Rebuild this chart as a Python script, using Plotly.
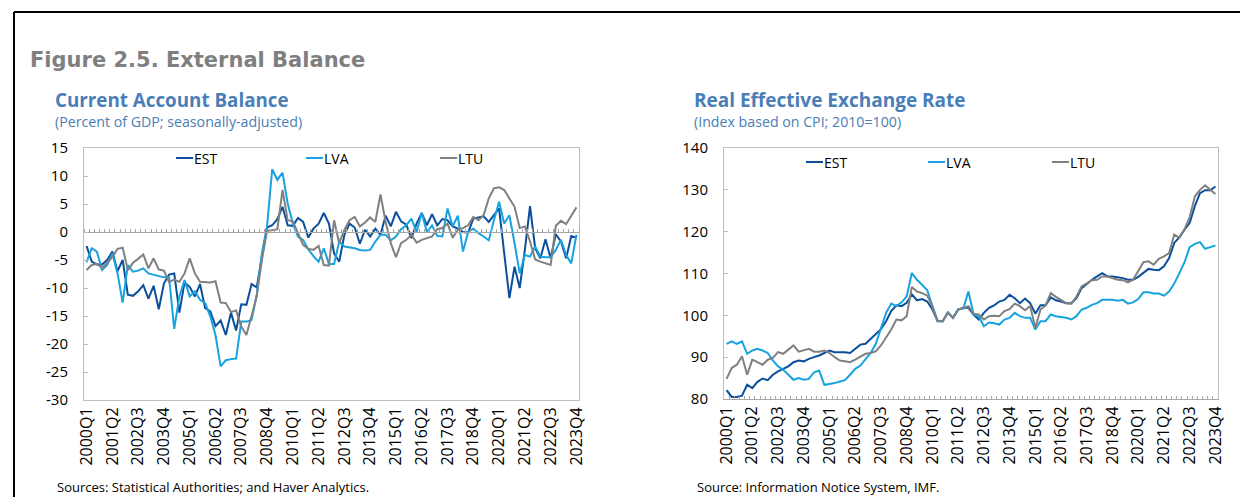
import plotly.graph_objects as go

# 2000Q1 ... 2023Q4
QUARTERS = [f"{y}Q{q}" for y in range(2000, 2024) for q in range(1, 5)]

# Current account balance, percent of GDP
CA_EST = [-2.5, -5.3, -5.8, -5.8, -5.0, -3.5, -7.0, -5.0, -11.2, -11.4,
          -10.6, -9.5, -11.9, -9.6, -13.8, -9.2, -7.6, -7.4, -14.4, -9.0,
          -9.8, -11.5, -9.3, -13.6, -14.2, -16.8, -15.8, -18.4, -14.4, -17.6,
          -12.9, -13.0, -9.3, -9.9, -4.5, 0.8, 1.2, 2.3, 4.5, 1.2,
          1.1, 2.5, 1.8, -1.0, 0.6, 1.5, 3.4, 1.5, -3.8, -5.3,
          -0.5, 1.5, 0.8, -2.1, 0.4, -0.8, 0.6, -0.5, 2.9, 1.0,
          3.6, 1.9, 1.3, -1.1, 1.5, 3.4, 1.2, 3.2, 1.2, 2.3,
          2.1, 1.0, 0.6, 0.0, -0.1, 2.4, 2.6, 2.8, 1.8, 3.0,
          4.2, -3.8, -11.8, -6.2, -10.0, -3.2, 4.6, -2.9, -4.7, -1.3,
          -4.7, -0.4, -1.7, -4.7, -0.7, -1.0]
CA_LVA = [-5.4, -2.9, -3.5, -6.8, -5.9, -3.8, -7.4, -12.6, -5.9, -7.1,
          -6.9, -6.5, -7.4, -7.6, -7.9, -8.1, -8.1, -17.3, -11.5, -8.6,
          -11.5, -10.6, -12.1, -12.7, -15.1, -18.4, -24.0, -22.9, -22.7, -22.6,
          -16.0, -16.0, -15.7, -11.2, -3.8, 1.0, 11.2, 9.3, 10.6, 5.1,
          1.5, -0.8, -1.4, -3.1, -4.3, -5.3, -2.9, -5.7, -5.7, -1.7,
          -2.6, -2.7, -2.9, -3.2, -3.3, -3.2, -1.7, -0.5, -0.5, -1.5,
          -0.8, 0.5, 1.2, 2.4, 0.0, 3.4, 0.0, 1.2, -0.7, -0.8,
          4.2, 1.0, 2.9, -3.5, 0.0, 0.6, -0.2, -0.8, -1.5, 2.1,
          5.4, 1.5, 3.0, -2.0, -7.4, -4.1, -4.4, -2.6, -4.4, -4.5,
          -4.5, -3.2, -1.4, -4.1, -5.6, -0.5]
CA_LTU = [-6.8, -5.9, -5.7, -6.4, -5.5, -4.5, -3.0, -2.8, -6.8, -5.5,
          -4.8, -4.0, -6.5, -4.7, -6.7, -6.9, -8.9, -8.5, -8.9, -7.4,
          -4.7, -7.4, -8.9, -9.0, -9.0, -8.8, -12.6, -12.7, -14.3, -14.0,
          -16.9, -18.4, -15.1, -11.5, -5.0, 0.2, 0.3, 0.5, 7.5, 2.1,
          1.9, -0.2, -2.3, -3.0, -3.2, -2.5, -5.9, -6.0, 2.1, -2.0,
          0.4, 2.1, 2.7, 1.0, 1.7, 2.6, 1.8, 6.7, 1.8, -2.0,
          -4.5, -2.0, -1.4, -0.5, -1.9, -1.4, -1.1, -0.8, 0.5, 0.7,
          1.5, -1.0, 0.4, 0.7, 1.2, 2.7, 2.1, 3.0, 6.0, 7.8,
          8.0, 7.5, 6.0, 4.5, 0.7, 1.0, -1.7, -4.9, -5.3, -5.6,
          -5.9, 1.1, 2.0, 1.4, 3.0, 4.4]

# Real effective exchange rate, CPI based, 2010=100
REER_EST = [82.1, 80.5, 80.5, 80.8, 83.4, 82.6, 84.1, 84.9, 84.5, 85.8,
            86.6, 87.2, 87.8, 88.8, 89.2, 89.0, 89.6, 90.0, 90.4, 91.0,
            91.6, 91.2, 91.2, 91.2, 91.0, 92.0, 93.0, 93.2, 94.3, 95.6,
            96.7, 98.6, 101.0, 102.4, 102.2, 103.0, 105.0, 103.6, 103.9, 103.3,
            101.4, 98.7, 98.6, 100.7, 99.4, 101.4, 101.8, 101.8, 100.2, 99.0,
            100.6, 101.8, 102.4, 103.3, 103.7, 104.9, 104.1, 102.9, 104.0, 102.9,
            100.4, 102.4, 102.4, 104.3, 103.6, 103.3, 102.9, 102.9, 104.1, 106.5,
            107.6, 108.5, 109.3, 110.1, 109.3, 109.3, 109.1, 108.9, 108.5, 108.5,
            109.2, 110.1, 111.1, 110.9, 110.8, 111.7, 113.7, 117.3, 118.7, 120.5,
            122.1, 126.1, 129.2, 129.9, 129.9, 130.8]
REER_LVA = [93.2, 93.8, 93.2, 93.8, 90.8, 91.6, 92.0, 91.6, 91.0, 89.2,
            87.8, 87.0, 85.8, 84.6, 85.0, 84.6, 84.8, 86.4, 86.8, 83.4,
            83.6, 83.8, 84.2, 84.5, 85.8, 87.2, 88.0, 89.4, 91.0, 93.2,
            97.0, 100.6, 102.8, 102.2, 103.1, 104.5, 110.1, 108.5, 107.3, 106.0,
            102.2, 98.6, 98.6, 100.6, 99.4, 101.4, 101.6, 105.7, 100.2, 99.8,
            97.4, 98.3, 98.1, 97.8, 99.0, 99.4, 100.6, 99.8, 99.4, 99.4,
            96.6, 98.6, 98.6, 100.2, 99.8, 99.6, 99.4, 99.0, 99.8, 101.4,
            101.8, 102.5, 102.9, 103.7, 103.7, 103.7, 103.5, 103.7, 102.8, 103.1,
            103.9, 105.5, 105.5, 105.2, 105.2, 104.7, 105.7, 107.6, 110.1, 112.7,
            116.3, 117.1, 117.5, 115.9, 116.3, 116.7]
REER_LTU = [84.8, 87.4, 88.2, 90.2, 85.8, 89.4, 88.8, 88.2, 89.4, 89.8,
            91.2, 90.8, 91.8, 92.8, 91.3, 91.6, 92.0, 91.3, 91.3, 91.6,
            91.0, 90.0, 89.2, 89.0, 88.8, 89.4, 90.2, 90.8, 91.0, 91.4,
            92.8, 94.6, 96.6, 99.0, 98.8, 99.8, 106.8, 105.7, 105.3, 104.7,
            102.2, 98.6, 98.6, 100.6, 99.4, 101.4, 101.8, 102.2, 100.4, 100.2,
            99.0, 99.8, 99.9, 99.8, 101.0, 101.5, 102.8, 102.2, 101.2, 102.2,
            97.0, 101.4, 102.4, 105.3, 104.4, 103.6, 102.9, 102.8, 104.5, 106.9,
            107.6, 108.4, 108.5, 109.3, 109.3, 108.9, 108.5, 108.4, 107.9, 108.5,
            110.5, 112.7, 112.9, 112.1, 113.5, 114.1, 114.9, 119.3, 118.5, 120.6,
            123.5, 128.4, 130.0, 131.1, 130.0, 129.0]

SERIES = ["EST", "LVA", "LTU"]
COLORS = {"EST": "#0B4F9C", "LVA": "#16A3E0", "LTU": "#808080"}

W, H = 1248, 497
OFF = 8  # page margin of the html body, positions below are in screen pixels
FONT = "Open Sans"
BLUE_TITLE = "#4A7EB6"
FRAME = "#BFBFBF"


def fx(p):
    return (p - OFF) / W


def fy(p):
    return 1 - (p - OFF) / H


ca_range = [-30, 15]
reer_range = [80, 140]
left_dom = [fx(84), fx(579)]
right_dom = [fx(724), fx(1218)]
left_ydom = [fy(400), fy(148)]
right_ydom = [fy(399), fy(148)]
zero_pos = left_ydom[0] + (0 - ca_range[0]) / (ca_range[1] - ca_range[0]) * (left_ydom[1] - left_ydom[0])

fig = go.Figure()

for name, vals in zip(SERIES, [CA_EST, CA_LVA, CA_LTU]):
    fig.add_trace(go.Scatter(x=QUARTERS, y=vals, name=name, mode="lines",
                             line=dict(color=COLORS[name], width=2),
                             xaxis="x", yaxis="y", showlegend=False))
for name, vals in zip(SERIES, [REER_EST, REER_LVA, REER_LTU]):
    fig.add_trace(go.Scatter(x=QUARTERS, y=vals, name=name, mode="lines",
                             line=dict(color=COLORS[name], width=2),
                             xaxis="x2", yaxis="y2", showlegend=False))

# empty traces so the tick-mark axes get drawn
fig.add_trace(go.Scatter(x=QUARTERS, y=[None] * len(QUARTERS), xaxis="x3", yaxis="y",
                         showlegend=False, hoverinfo="skip"))
fig.add_trace(go.Scatter(x=QUARTERS, y=[None] * len(QUARTERS), xaxis="x4", yaxis="y2",
                         showlegend=False, hoverinfo="skip"))

xfont = dict(family=FONT, size=16, color="#000000")
yfont = dict(family=FONT, size=15, color="#000000")
label_axis = dict(type="category", categoryarray=QUARTERS, range=[-0.5, len(QUARTERS) - 0.5],
                  tickmode="array", tickvals=QUARTERS[::5], ticktext=QUARTERS[::5],
                  ticks="", tickangle=-90, tickfont=xfont, showgrid=False, automargin=False,
                  showline=True, linecolor=FRAME, linewidth=1, mirror=True, fixedrange=True)
mark_axis = dict(type="category", categoryarray=QUARTERS, range=[-0.5, len(QUARTERS) - 0.5],
                 tickmode="linear", tick0=0, dtick=1, tickson="boundaries", automargin=False,
                 ticklen=3, tickcolor="#A6A6A6", tickwidth=1, showticklabels=False,
                 showgrid=False, showline=True, linecolor="#A6A6A6", linewidth=1)
y_common = dict(tickmode="array", ticks="inside", ticklen=4, tickcolor=FRAME,
                ticklabelstandoff=12, tickfont=yfont, showgrid=False, zeroline=False,
                showline=True, linecolor=FRAME, mirror=True, fixedrange=True, automargin=False)

ca_ticks = list(range(-30, 16, 5))
reer_ticks = list(range(80, 141, 10))

fig.update_layout(
    width=W, height=H,
    margin=dict(l=0, r=0, t=0, b=0, pad=0, autoexpand=False),
    paper_bgcolor="white", plot_bgcolor="white",
    font=dict(family=FONT, color="#000000"),
    xaxis=dict(label_axis, domain=left_dom, anchor="y"),
    xaxis2=dict(label_axis, domain=right_dom, anchor="y2"),
    xaxis3=dict(mark_axis, overlaying="x", anchor="free", position=zero_pos,
                side="top", ticks="outside"),
    xaxis4=dict(mark_axis, overlaying="x2", anchor="y2", side="bottom", ticks="inside"),
    yaxis=dict(y_common, domain=left_ydom, range=ca_range, tickvals=ca_ticks,
               ticktext=[str(v) for v in ca_ticks], anchor="x"),
    yaxis2=dict(y_common, domain=right_ydom, range=reer_range, tickvals=reer_ticks,
                ticktext=[str(v) for v in reer_ticks], anchor="x2"),
)

# frame of the figure box
fig.add_shape(type="line", xref="paper", yref="paper", x0=fx(14), x1=1, y0=fy(12), y1=fy(12),
              line=dict(color="black", width=2))
fig.add_shape(type="line", xref="paper", yref="paper", x0=fx(14), x1=fx(14), y0=fy(12), y1=0,
              line=dict(color="black", width=2))


def text(x, y, s, size, color="#000000", bold=False, family=FONT):
    if bold:
        s = f"<b>{s}</b>"
    fig.add_annotation(xref="paper", yref="paper", x=fx(x), y=fy(y), text=s,
                       showarrow=False, xanchor="left", yanchor="middle",
                       font=dict(family=family, size=size, color=color))


text(28, 60, "Figure 2.5. External Balance", 21, "#7F7F7F", True, "DejaVu Sans")
text(53, 100, "Current Account Balance", 18.8, BLUE_TITLE, True)
text(53, 122, "(Percent of GDP; seasonally-adjusted)", 14.2, BLUE_TITLE)
text(692, 100, "Real Effective Exchange Rate", 19, BLUE_TITLE, True)
text(692, 121, "(Index based on CPI; 2010=100)", 14.2, BLUE_TITLE)
text(55, 487, "Sources: Statistical Authorities; and Haver Analytics.", 13)
text(695, 487, "Source: Information Notice System, IMF.", 13)

# in-plot legends: short line then label
legend_left = [(176, "EST"), (306, "LVA"), (440, "LTU")]
legend_right = [(806, "EST"), (928, "LVA"), (1052, "LTU")]
for items, ly in [(legend_left, 158), (legend_right, 162)]:
    for x0, name in items:
        fig.add_shape(type="line", xref="paper", yref="paper", x0=fx(x0), x1=fx(x0 + 17),
                      y0=fy(ly), y1=fy(ly), line=dict(color=COLORS[name], width=2))
        text(x0 + 16, ly, name, 14)

fig.write_html("out.html")
